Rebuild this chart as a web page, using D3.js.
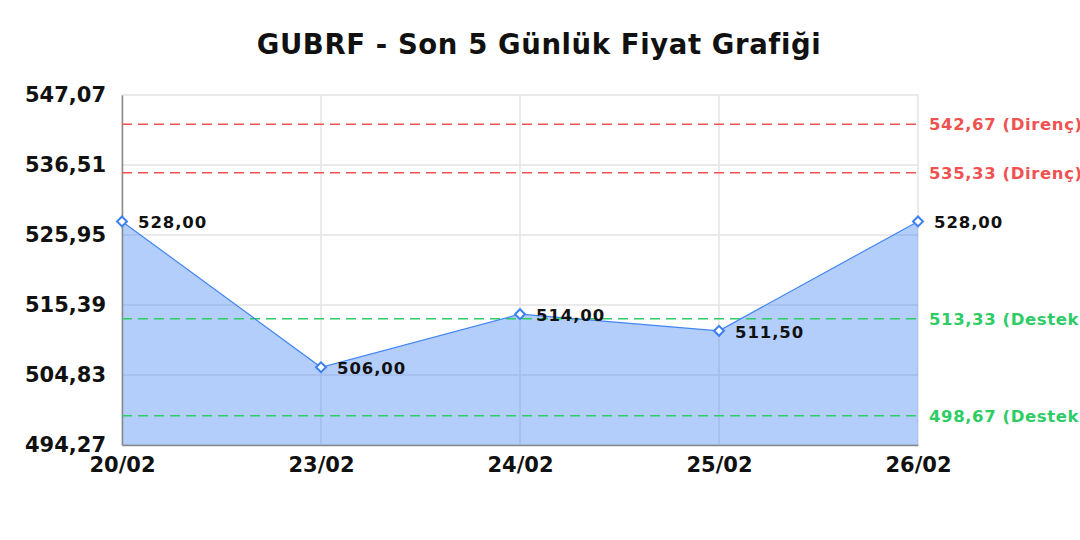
<!DOCTYPE html>
<html>
<head>
<meta charset="utf-8">
<script src="https://cdn.jsdelivr.net/npm/d3@7"></script>
<style>
  body { margin: 0; background: #fff; }
  svg { display: block; font-family: "DejaVu Sans", sans-serif; }
</style>
</head>
<body>
<div id="chart"></div>
<script>
const title = "GUBRF - Son 5 Günlük Fiyat Grafiği"
const dates = ["20/02", "23/02", "24/02", "25/02", "26/02"]
const prices = [528.00, 506.00, 514.00, 511.50, 528.00]
const yTicks = [494.27, 504.83, 515.39, 525.95, 536.51, 547.07]
const resistance = [542.67, 535.33]
const support = [513.33, 498.67]

const dim = {outer_width: 1080, outer_height: 540, ml: 122, mt: 95, mr: 162, mb: 95}
dim.width = dim.outer_width - dim.ml - dim.mr
dim.height = dim.outer_height - dim.mt - dim.mb

const fmt = n => n.toFixed(2).replace(".", ",")

const svg = d3.select("#chart").append("svg")
  .attr("width", dim.outer_width).attr("height", dim.outer_height)

svg.append("text")
  .attr("x", dim.outer_width / 2 - 1).attr("y", 54)
  .attr("text-anchor", "middle")
  .style("font-size", "27.5px").style("font-weight", "bold")
  .style("letter-spacing", "0.6px")
  .attr("fill", "#111")
  .text(title)

const main_g = svg.append("g").attr("transform", "translate(" + dim.ml + "," + dim.mt + ")")

const d3x = d3.scalePoint().domain(dates).range([0, dim.width])
const d3y = d3.scaleLinear().domain([yTicks[0], yTicks[yTicks.length - 1]]).range([dim.height, 0])

// grid
main_g.append("g").selectAll("line").data(yTicks).join("line")
  .attr("x1", 0).attr("x2", dim.width)
  .attr("y1", d => d3y(d)).attr("y2", d => d3y(d))
  .attr("stroke", "#e3e3e3").attr("stroke-width", 1.5)
main_g.append("g").selectAll("line").data(dates).join("line")
  .attr("x1", d => d3x(d)).attr("x2", d => d3x(d))
  .attr("y1", 0).attr("y2", dim.height)
  .attr("stroke", "#e3e3e3").attr("stroke-width", 1.5)

// area
const area = d3.area()
  .x((d, i) => d3x(dates[i]))
  .y0(dim.height)
  .y1(d => d3y(d))
main_g.append("path")
  .attr("d", area(prices))
  .attr("fill", "#4285f4").attr("fill-opacity", 0.4)

// axes
const yAxis = main_g.append("g")
  .call(d3.axisLeft(d3y).tickValues(yTicks).tickFormat(fmt).tickSize(0).tickPadding(16))
yAxis.select(".domain").attr("stroke", "#888").attr("stroke-width", 1.5)
yAxis.selectAll("text").style("font-size", "21px").style("font-weight", "bold")
  .attr("fill", "#111").attr("font-family", "DejaVu Sans")

const xAxis = main_g.append("g").attr("transform", "translate(0," + dim.height + ")")
  .call(d3.axisBottom(d3x).tickSize(0).tickPadding(12))
xAxis.select(".domain").attr("stroke", "#888").attr("stroke-width", 1.5)
xAxis.selectAll("text").style("font-size", "21px").style("font-weight", "bold")
  .attr("fill", "#111").attr("font-family", "DejaVu Sans")

// support / resistance
function levelLines(values, color, label) {
  const g = main_g.append("g")
  g.selectAll("line").data(values).join("line")
    .attr("x1", 0).attr("x2", dim.width)
    .attr("y1", d => d3y(d)).attr("y2", d => d3y(d))
    .attr("stroke", color).attr("stroke-width", 1.5)
    .attr("stroke-dasharray", "10,6")
  g.selectAll("text").data(values).join("text")
    .attr("x", dim.width + 11).attr("y", d => d3y(d))
    .attr("dy", "0.36em")
    .attr("fill", color)
    .style("font-size", "16.5px").style("font-weight", "bold").style("letter-spacing", "0.6px")
    .text(d => fmt(d) + " (" + label + ")")
}
levelLines(resistance, "#f05252", "Direnç")
levelLines(support, "#2ecc65", "Destek")

// line
const line = d3.line()
  .x((d, i) => d3x(dates[i]))
  .y(d => d3y(d))
main_g.append("path")
  .attr("d", line(prices))
  .attr("fill", "none").attr("stroke", "#4285f4").attr("stroke-width", 1.2)

// markers + labels
main_g.append("g").selectAll("path").data(prices).join("path")
  .attr("transform", (d, i) => "translate(" + d3x(dates[i]) + "," + d3y(d) + ") rotate(45)")
  .attr("d", "M-3.5,-3.5h7v7h-7z")
  .attr("fill", "#fff").attr("stroke", "#3b7ff0").attr("stroke-width", 2)

main_g.append("g").selectAll("text").data(prices).join("text")
  .attr("x", (d, i) => d3x(dates[i]) + 16)
  .attr("y", d => d3y(d))
  .attr("dy", "0.42em")
  .attr("fill", "#111")
  .style("font-size", "16.5px").style("font-weight", "bold").style("letter-spacing", "0.9px")
  .text(fmt)
</script>
</body>
</html>
